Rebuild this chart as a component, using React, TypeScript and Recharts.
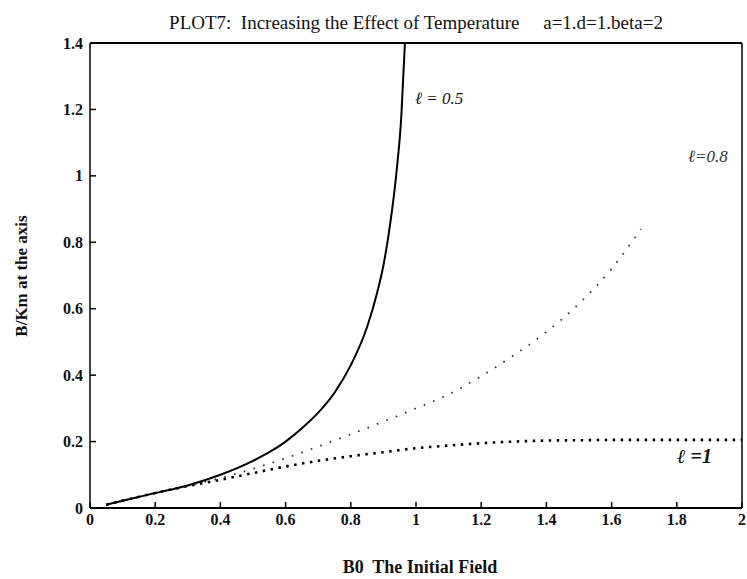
import React from 'react';
import { LineChart, Line, XAxis, YAxis } from 'recharts';

// tick values on both axes
const xTicks = [0, 0.2, 0.4, 0.6, 0.8, 1, 1.2, 1.4, 1.6, 1.8, 2];
const yTicks = [0, 0.2, 0.4, 0.6, 0.8, 1, 1.2, 1.4];

// l = 0.5 (solid)
const xHalf = [0.05, 0.1, 0.2, 0.3, 0.4, 0.5, 0.55, 0.6, 0.65, 0.7, 0.75, 0.8, 0.85, 0.88, 0.9, 0.92, 0.94, 0.955, 0.966];
const yHalf = [0.01, 0.022, 0.045, 0.068, 0.1, 0.142, 0.168, 0.2, 0.24, 0.287, 0.347, 0.43, 0.545, 0.645, 0.73, 0.85, 1.01, 1.18, 1.4];

// l = 0.8 (light dots)
const xEight = [0.05, 0.2, 0.3, 0.4, 0.5, 0.6, 0.7, 0.8, 0.9, 1.0, 1.1, 1.2, 1.3, 1.4, 1.5, 1.6, 1.69];
const yEight = [0.01, 0.045, 0.068, 0.09, 0.118, 0.15, 0.185, 0.222, 0.26, 0.3, 0.342, 0.397, 0.46, 0.53, 0.615, 0.72, 0.84];

// l = 1 (heavy dots)
const xOne = [0.05, 0.2, 0.3, 0.4, 0.5, 0.6, 0.7, 0.8, 0.9, 1.0, 1.1, 1.2, 1.3, 1.4, 1.5, 1.6, 1.7, 1.8, 1.9, 2.0];
const yOne = [0.01, 0.045, 0.066, 0.085, 0.105, 0.125, 0.142, 0.156, 0.168, 0.18, 0.188, 0.195, 0.2, 0.203, 0.204, 0.205, 0.205, 0.205, 0.205, 0.205];

const toRows = (xs: number[], ys: number[]) => xs.map((x, i) => ({ x, y: ys[i] }));

const SERIF = '"Liberation Serif", "DejaVu Serif", serif';
const GAP_X = 6;
const GAP_Y = 7;
const TICK = 6;

const fmt = (v: number) => String(Math.round(v * 10) / 10);

function BottomTick(props: any) {
    const { x, y, payload } = props;
    const edge = y - GAP_X;
    return (
        <g>
            <line x1={x} x2={x} y1={edge} y2={edge - TICK} stroke="#000" strokeWidth={1.5} />
            <text x={x} y={y} dy="0.71em" textAnchor="middle" fontFamily={SERIF} fontWeight="bold" fontSize={16} fill="#111">
                {fmt(payload.value)}
            </text>
        </g>
    );
}

function LeftTick(props: any) {
    const { x, y, payload } = props;
    const edge = x + GAP_Y;
    return (
        <g>
            <line x1={edge} x2={edge + TICK} y1={y} y2={y} stroke="#000" strokeWidth={1.5} />
            <text x={x} y={y} dy="0.35em" textAnchor="end" fontFamily={SERIF} fontWeight="bold" fontSize={16} fill="#111">
                {fmt(payload.value)}
            </text>
        </g>
    );
}

function TopTick(props: any) {
    const { x, y } = props;
    return <line x1={x} x2={x} y1={y} y2={y + TICK} stroke="#000" strokeWidth={1.2} />;
}

function RightTick(props: any) {
    const { x, y } = props;
    return <line x1={x} x2={x - TICK} y1={y} y2={y} stroke="#000" strokeWidth={1.2} />;
}

export default function App() {
    return (
        <div style={{ position: 'absolute', left: 0, top: 0, width: 747, height: 579, background: '#fff', fontFamily: SERIF }}>
            <LineChart width={747} height={579} margin={{ top: 42, right: 4, bottom: 70, left: 89 }}>
                <XAxis
                    dataKey="x"
                    type="number"
                    domain={[0, 2]}
                    ticks={xTicks}
                    height={1}
                    tickSize={0}
                    tickMargin={GAP_X}
                    tick={<BottomTick />}
                    axisLine={{ stroke: '#000', strokeWidth: 2.2 }}
                />
                <XAxis
                    xAxisId="top"
                    orientation="top"
                    dataKey="x"
                    type="number"
                    domain={[0, 2]}
                    ticks={xTicks}
                    height={1}
                    tickSize={0}
                    tickMargin={0}
                    tick={<TopTick />}
                    axisLine={{ stroke: '#000', strokeWidth: 2 }}
                />
                <YAxis
                    type="number"
                    domain={[0, 1.4]}
                    ticks={yTicks}
                    width={1}
                    tickSize={0}
                    tickMargin={GAP_Y}
                    tick={<LeftTick />}
                    axisLine={{ stroke: '#000', strokeWidth: 1.5 }}
                />
                <YAxis
                    yAxisId="right"
                    orientation="right"
                    type="number"
                    domain={[0, 1.4]}
                    ticks={yTicks}
                    width={1}
                    tickSize={0}
                    tickMargin={0}
                    tick={<RightTick />}
                    axisLine={{ stroke: '#000', strokeWidth: 1.5 }}
                />
                <Line
                    data={toRows(xOne, yOne)}
                    dataKey="y"
                    type="monotone"
                    stroke="#000"
                    strokeWidth={2.6}
                    strokeDasharray="2.5 5.5"
                    dot={false}
                    isAnimationActive={false}
                />
                <Line
                    data={toRows(xEight, yEight)}
                    dataKey="y"
                    type="monotone"
                    stroke="#333"
                    strokeWidth={1.8}
                    strokeDasharray="1.6 8.5"
                    dot={false}
                    isAnimationActive={false}
                />
                <Line
                    data={toRows(xHalf, yHalf)}
                    dataKey="y"
                    type="monotone"
                    stroke="#000"
                    strokeWidth={2}
                    dot={false}
                    isAnimationActive={false}
                />
            </LineChart>

            {/* title */}
            <div style={{ position: 'absolute', left: 0, width: 832, top: 12, textAlign: 'center', fontSize: 19, color: '#111', whiteSpace: 'pre' }}>
                {'PLOT7:  Increasing the Effect of Temperature     a=1.d=1.beta=2'}
            </div>

            {/* axis labels */}
            <div style={{ position: 'absolute', left: 320, width: 200, top: 557, textAlign: 'center', fontSize: 18, fontWeight: 'bold', color: '#111', whiteSpace: 'pre' }}>
                B0  The Initial Field
            </div>
            <div style={{ position: 'absolute', left: 22, top: 276, transform: 'translate(-50%, -50%) rotate(-90deg)', fontSize: 17, fontWeight: 'bold', color: '#111', whiteSpace: 'pre' }}>
                B/Km at the axis
            </div>

            {/* curve labels */}
            <div style={{ position: 'absolute', left: 415, top: 89, fontSize: 17, fontStyle: 'italic', color: '#111', whiteSpace: 'pre' }}>ℓ = 0.5</div>
            <div style={{ position: 'absolute', left: 688, top: 147, fontSize: 17, fontStyle: 'italic', color: '#333', whiteSpace: 'pre' }}>ℓ=0.8</div>
            <div style={{ position: 'absolute', left: 677, top: 445, fontSize: 20, fontStyle: 'italic', fontWeight: 'bold', color: '#111', whiteSpace: 'pre' }}>ℓ =1</div>
        </div>
    );
}
